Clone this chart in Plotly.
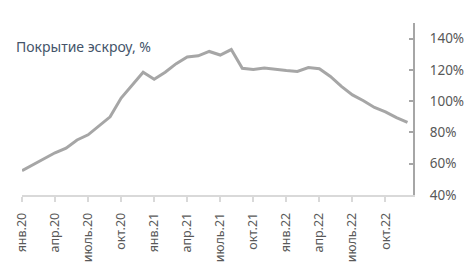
import plotly.graph_objects as go

months = ["янв", "фев", "март", "апр", "май", "июнь", "июль", "авг", "сен", "окт", "нояб", "дек"]
categories = [f"{m}.{y}" for y in ["20", "21", "22"] for m in months]
values = [55.6, 59.3, 62.8, 67.0, 70.0, 75.2, 78.5, 84.0, 90.0, 102.0, 110.5, 118.5,
          114.0, 118.5, 124.0, 128.3, 129.0, 131.8, 129.5, 133.0, 121.0, 120.3, 121.2, 120.3,
          119.6, 119.0, 121.5, 120.8, 115.8, 109.5, 104.0, 100.3, 96.0, 93.2, 89.5, 86.5]
tick_labels = ["янв.20", "апр.20", "июль.20", "окт.20", "янв.21", "апр.21", "июль.21",
               "окт.21", "янв.22", "апр.22", "июль.22", "окт.22"]
y_ticks = [40, 60, 80, 100, 120, 140]
title_text = "Покрытие эскроу, %"

fig = go.Figure()
fig.add_trace(go.Scatter(
    x=list(range(len(categories))), y=values, mode="lines",
    line=dict(color="#a6a6a6", width=3),
    hoverinfo="skip",
))

fig.update_layout(
    width=476, height=270,
    margin=dict(l=22, r=63, t=23, b=75, autoexpand=False),
    paper_bgcolor="white", plot_bgcolor="white",
    showlegend=False,
    font=dict(family="Noto Sans", color="#595959"),
    xaxis=dict(
        range=[0, 35.5],
        automargin=False,
        tickvals=[categories.index(t) for t in tick_labels],
        ticktext=tick_labels,
        tickangle=-90,
        tickfont=dict(size=12.5, color="#595959", family="Noto Sans"),
        showgrid=False, zeroline=False,
        showline=True, linecolor="#d9d9d9", linewidth=1.5,
        ticks="outside", ticklen=5, tickcolor="#d9d9d9", tickwidth=1.5,
        ticklabelstandoff=6,
    ),
    yaxis=dict(
        side="right",
        range=[40, 150],
        automargin=False,
        tickvals=y_ticks,
        ticktext=[f"{v}%" for v in y_ticks],
        tickfont=dict(size=13.5, color="#595959", family="Noto Sans"),
        showgrid=False, zeroline=False,
        showline=True, linecolor="#a6a6a6", linewidth=2,
        ticks="inside", ticklen=4, tickcolor="#a6a6a6", tickwidth=1.5,
        ticklabelstandoff=12,
    ),
    annotations=[dict(
        text=title_text, xref="paper", yref="paper", x=-0.021, y=0.862,
        xanchor="left", yanchor="middle", showarrow=False,
        font=dict(size=14, color="#44546a", family="Noto Sans"),
    )],
)

fig.write_html("out.html")
